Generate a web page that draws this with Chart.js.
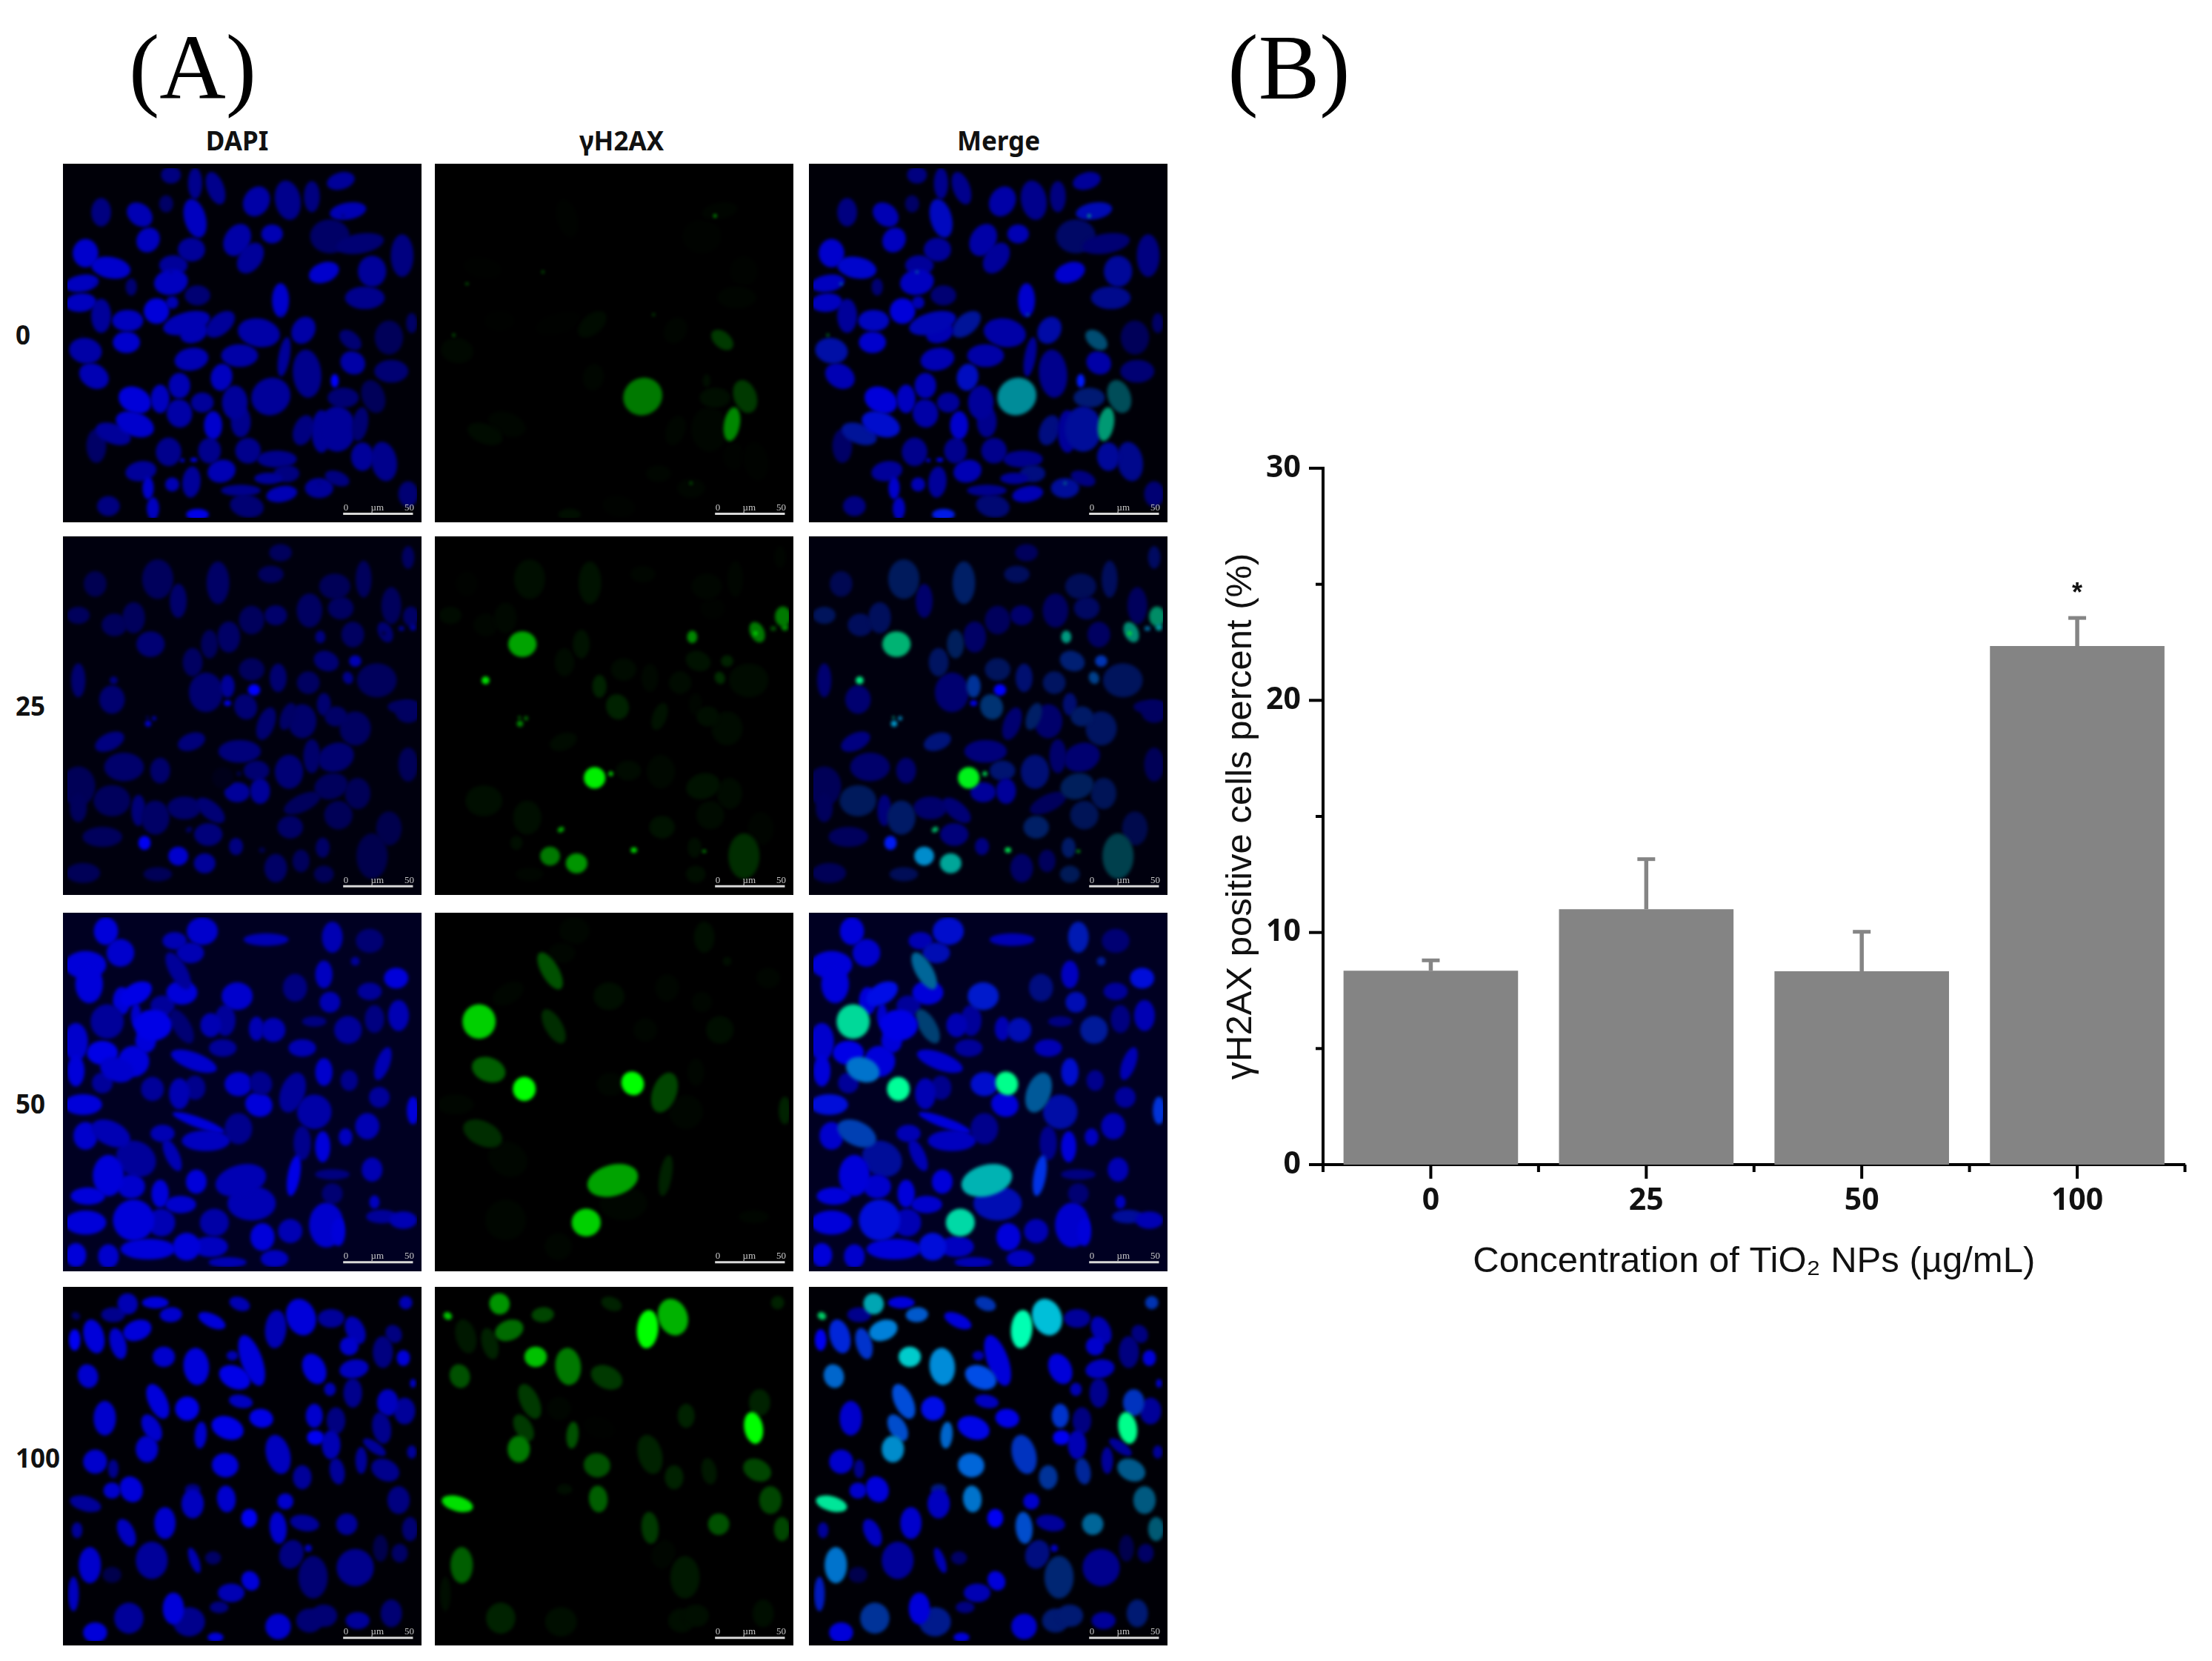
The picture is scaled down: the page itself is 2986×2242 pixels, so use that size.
<!DOCTYPE html>
<html>
<head>
<meta charset="utf-8">
<title>TiO2 NPs - gamma H2AX</title>
<script src="https://cdn.jsdelivr.net/npm/chart.js@4"></script>
<style>
  html, body { margin: 0; padding: 0; background: #fff; }
  #page { position: relative; width: 2986px; height: 2242px; overflow: hidden; }
  #page canvas { position: absolute; }
  .panel { background: #000; }
  .lbl { position: absolute; font-family: "Noto Sans", sans-serif; font-weight: 700; font-size: 35px; color: #111; line-height: 1; transform: translate(-50%, -50%); white-space: nowrap; }
  .row { transform: translate(0, -50%); }
  .big { font-family: "Liberation Serif", serif; font-weight: 400; font-size: 124px; color: #000; }
</style>
</head>
<body>
<div id="page">
  <canvas id="bars" width="1366" height="1220" style="left:1620px;top:560px"></canvas>
</div>
<script>
// Panel (B): bar values
var concentrations = ['0', '25', '50', '100'];
var positivePercent = [8.35, 11.0, 8.33, 22.34];
var errorTips = [8.8, 13.16, 10.03, 23.55];
var significance = ['', '', '', '*'];
var yTicks = [0, 5, 10, 15, 20, 25, 30];

// Panel (A)
var channels = ['DAPI', 'γH2AX', 'Merge'];
var rowLabels = ['0', '25', '50', '100'];
var scaleBarText = ['0', 'µm', '50'];

// Nuclei: x, y, x radius, y radius, tilt, blue, green
var nuclei0 = [
  [60,350,45,50,0,.8,0],[165,410,70,38,10,.8,.02],[45,475,60,30,-10,.75,0],[40,555,55,33,-5,.75,0],[125,180,35,50,0,.5,0],
  [285,190,50,38,40,.7,0],[320,295,40,45,30,.75,0],[395,145,25,30,0,.4,0],[515,205,38,70,-15,.75,.03],[415,25,35,30,0,.5,0],
  [515,60,25,55,0,.55,0],[600,80,30,60,-20,.55,0],[500,335,48,42,0,.6,0],[415,470,60,45,-10,.75,0],[425,400,50,35,0,.6,0],
  [420,555,22,22,0,.7,0],[525,525,45,35,0,.45,0],[355,590,45,45,0,.85,0],[125,610,35,60,0,.6,0],[235,630,55,38,0,.75,.02],
  [230,720,48,38,0,.8,0],[60,755,58,45,10,.65,.06],[95,860,55,42,30,.7,0],[250,490,20,30,0,.45,0],[480,640,85,38,-15,.7,.02],
  [510,680,50,35,-20,.7,0],[620,645,60,35,-40,.6,.08],[690,295,45,60,30,.65,0],[745,370,40,60,35,.6,0],[835,270,38,33,0,.7,0],
  [770,135,45,55,30,.65,0],[900,130,45,70,-10,.55,0],[1000,115,28,55,0,.5,0],[1120,50,50,30,-15,.6,0],[1150,175,65,30,-10,.7,.04],
  [1075,280,70,60,0,.4,.03],[1200,310,85,35,-10,.45,0],[1050,430,55,35,-20,.8,0],[1250,425,50,55,0,.6,.03],[1375,360,40,75,0,.5,0],
  [1220,535,70,40,0,.55,.04],[870,545,30,60,0,.8,0],[780,680,75,50,10,.65,0],[965,670,40,50,30,.65,.04],[700,775,65,40,0,.65,0],
  [500,790,60,40,-10,.7,0],[625,865,38,48,10,.75,.05],[885,780,20,70,10,.6,0],[980,850,50,85,-5,.55,0],[830,945,70,65,-30,.6,.55],
  [1095,880,14,24,0,1,.1],[1160,710,45,28,40,.45,.3],[1170,805,45,40,30,.65,0],[1255,945,40,60,-20,.35,.3],[1130,950,55,35,0,.45,.1],
  [1200,1060,28,60,10,.45,.6],[1105,1080,65,80,0,.6,.05],[965,1085,35,55,20,.5,.05],[1040,1090,35,75,0,.6,0],[265,960,60,45,25,.85,0],
  [370,955,33,50,0,.75,0],[450,900,38,45,0,.7,0],[265,1060,70,42,20,.8,.05],[450,1015,45,50,-10,.65,0],[545,970,40,35,0,.6,0],
  [590,1065,32,50,0,.8,0],[680,970,45,60,0,.6,0],[705,1050,35,55,0,.55,0],[175,1100,65,35,20,.6,.08],[105,1150,35,60,0,.4,0],
  [405,1175,45,50,0,.55,0],[575,1170,40,45,0,.55,0],[735,1170,45,45,0,.55,0],[855,1205,70,30,0,.55,0],[895,1265,45,30,0,.5,.05],
  [820,1285,50,20,0,.6,0],[625,1255,50,40,-15,.7,0],[500,1300,32,55,5,.6,0],[420,1310,25,25,0,.7,0],[290,1255,55,35,-10,.6,0],
  [320,1325,20,40,0,.8,0],[705,1335,70,20,0,.55,0],[875,1350,55,28,-10,.7,0],[730,1400,60,40,10,.45,.03],[340,1410,22,40,0,.75,0],
  [155,1400,40,35,0,.5,0],[525,1435,40,20,0,.9,.1],[1210,1195,40,50,0,.6,.03],[1300,1215,45,70,-10,.55,.03],[1105,1285,45,25,20,.5,0],
  [1030,1325,50,35,0,.6,.05],[1400,1350,35,45,0,.45,0],[1330,840,60,40,0,.45,0],[1415,640,20,35,0,.4,0],[1320,700,50,60,0,.35,0],
  [510,1208,14,8,0,1,0],[462,1210,9,7,0,1,0],[1130,195,6,6,0,.4,.9],[45,690,5,5,0,.2,.7],[415,428,5,5,0,.5,.6],
  [100,477,6,4,0,.5,.7],[875,605,5,5,0,.5,.5],[1030,1305,6,6,0,.5,.5]
];
var nuclei25 = [
  [360,150,55,70,0,.36,.1],[610,165,40,75,0,.4,.12],[445,240,30,60,0,.42,0],[100,170,40,45,0,.32,.03],[260,310,40,55,0,.36,.06],
  [180,340,45,40,0,.36,.05],[30,300,40,30,0,.36,.08],[575,420,30,50,0,.36,.12],[505,495,35,50,0,.38,.08],[655,390,40,55,0,.4,0],
  [750,320,45,50,0,.36,0],[850,300,40,35,0,.42,0],[990,280,45,60,0,.38,0],[1095,180,55,45,0,.34,.05],[1215,150,28,65,0,.36,.05],
  [1120,270,45,40,0,.38,.03],[1170,380,40,45,0,.38,0],[870,40,40,30,0,.36,0],[1330,260,35,65,0,.36,0],[830,130,45,30,0,.36,.05],
  [1400,60,22,40,0,.38,.04],[750,525,45,40,0,.36,.08],[860,560,30,50,0,.44,.06],[985,580,40,40,0,.38,.08],[1270,570,70,60,0,.36,.08],
  [560,620,60,70,0,.44,0],[170,650,45,50,0,.44,0],[30,570,25,60,0,.44,0],[900,720,25,50,20,.4,.12],[810,750,30,60,20,.44,0],
  [960,740,50,60,0,.42,0],[1050,670,25,40,0,.44,.05],[1100,720,40,35,0,.4,.1],[1180,770,55,60,0,.38,.08],[1400,700,45,40,0,.38,0],
  [160,825,55,30,-25,.5,0],[500,825,50,30,-20,.48,.08],[700,865,75,40,0,.48,0],[905,950,50,60,0,.46,.06],[1000,885,30,60,0,.42,0],
  [1100,890,65,50,-20,.44,0],[220,930,70,50,0,.42,0],[370,945,35,45,0,.42,0],[770,945,45,35,0,.44,.08],[30,1010,60,70,0,.34,0],
  [170,1070,65,55,0,.36,.1],[280,1110,25,55,0,.48,0],[350,1140,50,60,0,.4,.1],[470,1100,60,40,0,.42,0],[580,1110,60,30,40,.46,0],
  [690,1035,45,35,0,.6,0],[785,1030,35,45,0,.6,0],[960,1080,70,30,-25,.36,0],[1080,1010,60,45,-15,.36,.12],[1190,1040,45,55,0,.34,.08],
  [1110,1130,50,50,0,.34,.08],[910,1180,45,40,0,.4,.12],[570,1210,50,40,0,.48,0],[1320,1185,45,60,0,.3,.04],[1250,1300,55,80,0,.3,.25],
  [1045,1265,25,35,0,.4,.1],[955,1320,30,40,0,.36,0],[850,1350,40,50,0,.4,0],[685,1260,25,30,0,.5,0],[1050,1375,35,30,0,.34,.1],
  [50,1370,60,35,0,.34,0],[130,1220,70,35,0,.36,0],[30,1100,30,50,0,.36,0],[360,1375,50,25,0,.34,.05],[1400,920,35,60,0,.34,0],
  [1385,680,60,25,0,.38,0],
  [330,420,50,45,0,.45,.7],[177,570,16,16,0,.5,.9],[630,975,38,38,0,.1,.95],[697,958,10,10,0,.3,.8],[320,750,13,13,0,.8,.6],
  [345,728,9,9,0,.7,.5],[318,725,6,6,0,.5,.6],[1035,390,18,22,0,.5,.6],[1305,370,25,38,-25,.45,.55],[1298,375,8,8,0,.2,.9],
  [1412,305,28,35,0,.4,.55],[1420,350,14,14,0,.6,.6],[1372,355,12,10,0,.6,.4],[490,1190,14,10,-30,.4,.7],[793,1275,13,11,0,.3,.85],
  [1085,1280,8,6,0,.1,.7],[445,1300,35,33,0,.8,.55],[555,1330,38,35,0,.6,.65],[305,1245,22,25,0,.95,.1],[760,610,22,20,0,1,0],
  [650,665,15,12,0,.9,0],[650,595,25,40,0,.6,.2],[725,680,40,45,-20,.45,.2],[1180,490,22,20,0,.7,.2],[1150,560,18,22,-20,.55,.25],
  [1060,490,45,35,20,.45,.12]
];
var nuclei50 = [
  [145,40,35,40,0,.85,0],[205,130,40,40,0,.8,0],[60,180,60,40,0,.85,0],[75,260,40,55,0,.85,0],[270,300,50,30,-30,.9,.05],
  [545,40,45,40,0,.8,.05],[430,80,35,25,0,.7,0],[495,130,40,30,0,.7,.05],[460,295,45,35,0,.85,0],[690,310,45,40,0,.8,.1],
  [810,75,65,18,0,.7,0],[1085,65,30,45,0,.7,.1],[1180,165,18,18,0,.6,.1],[1050,220,25,40,0,.75,0],[930,275,35,40,0,.5,.05],
  [1075,335,30,30,0,.7,.05],[1350,235,35,30,0,.85,.05],[1240,80,40,35,0,.45,0],[1240,290,35,25,0,.6,0],[1360,390,30,45,0,.7,0],
  [1260,405,28,40,0,.5,0],[1150,450,40,40,0,.6,.1],[1010,415,35,15,0,.5,0],[840,450,35,35,0,.7,.05],[770,445,22,35,0,.7,0],
  [640,410,30,45,0,.6,0],[580,430,30,35,0,.7,0],[340,430,55,45,0,.9,0],[310,495,30,35,0,.85,0],[270,390,15,35,0,.8,0],
  [380,350,35,30,0,.6,0],[210,330,25,40,0,.85,0],[20,500,35,55,0,.8,0],[130,545,45,35,0,.9,0],[260,580,45,45,0,.85,0],
  [510,580,70,25,20,.8,0],[630,525,40,25,0,.6,0],[960,525,40,25,0,.7,0],[695,675,40,35,0,.8,.05],[450,715,30,45,0,.7,0],
  [515,690,30,35,0,.55,0],[130,670,30,30,0,.6,0],[50,760,55,30,0,.85,.05],[20,620,25,45,0,.85,0],[780,760,40,35,20,.85,0],
  [1050,625,25,40,0,.8,.05],[1155,660,25,30,0,.55,0],[1295,590,20,50,20,.7,0],[1280,730,30,30,0,.6,0],[1420,785,18,40,0,.85,.2],
  [1230,850,35,38,0,.7,0],[1010,790,50,50,0,.65,.05],[530,835,80,15,20,.85,0],[695,860,40,45,0,.55,0],[380,880,35,25,0,.7,0],
  [420,970,20,50,-25,.7,0],[165,880,60,35,25,.7,.25],[60,890,35,40,0,.8,0],[560,910,70,30,0,.75,0],[1045,935,22,45,0,.85,0],
  [1140,895,20,25,0,.75,0],[960,920,25,50,0,.55,0],[270,985,60,50,30,.6,.05],[155,1055,45,60,0,.85,0],[250,1100,40,35,0,.8,0],
  [925,1055,18,60,10,.9,.2],[520,1080,30,35,0,.85,0],[1250,1030,30,35,0,.7,0],[1085,1050,50,15,0,.5,0],[1085,1130,30,30,0,.45,0],
  [70,1140,50,25,0,.85,0],[370,1130,25,40,0,.85,0],[455,1175,45,25,0,.8,0],[60,1250,60,35,0,.85,0],[260,1240,60,60,0,.85,.05],
  [375,1250,40,40,0,.7,0],[750,1170,70,50,0,.7,.05],[795,1310,35,40,0,.85,0],[1060,1260,50,65,0,.8,0],[1110,1290,20,40,0,.85,0],
  [910,1285,35,35,0,.7,0],[1260,1165,15,20,0,.75,0],[1290,1225,45,20,0,.6,.05],[320,1360,80,30,0,.85,0],[480,1350,40,40,0,.85,.05],
  [580,1350,50,30,0,.75,0],[20,1385,30,35,0,.85,0],[155,1390,30,35,0,.8,0],[845,1400,40,25,0,.75,0],[650,1415,55,15,0,.7,0],
  [1380,1240,40,25,0,.7,0],
  [150,415,48,50,0,.6,.85],[338,695,33,35,0,.6,1],[788,672,32,35,-30,.55,1],[595,1250,42,40,0,.65,.85],[705,1075,75,45,-15,.7,.7],
  [190,615,50,35,20,.8,.45],[445,205,25,60,-30,.6,.4],[460,435,25,55,-30,.45,.25],[920,710,35,60,20,.6,.35]
];
var nuclei100 = [
  [850,130,40,72,5,.7,1],[955,80,55,70,-20,.85,.75],[520,285,48,70,-5,.85,.55],[385,245,42,38,0,.8,.8],[70,325,38,45,-15,.8,.4],
  [680,330,62,42,25,.9,.3],[235,25,38,40,-20,.7,.65],[20,75,18,15,30,.4,.8],[275,135,55,38,-20,.85,.5],[415,70,42,28,-5,.8,.35],
  [350,20,50,22,0,.85,0],[175,70,45,28,0,.55,0],[95,160,38,65,-15,.85,.15],[195,190,30,60,-15,.8,.2],[15,175,22,40,0,.95,0],
  [585,95,55,25,25,.85,0],[700,25,40,25,20,.7,.2],[670,240,22,18,0,.7,0],[750,260,40,100,-20,.85,0],[1080,85,50,35,0,.6,0],
  [1180,135,35,55,-25,.7,0],[1155,200,35,35,0,.8,0],[1295,225,38,60,0,.5,0],[1340,150,30,35,-30,.5,0],[1380,250,25,30,0,.85,0],
  [1390,20,25,25,0,.7,.2],[1010,295,42,60,-25,.85,0],[1075,380,22,25,0,.7,0],[1175,295,55,35,-10,.75,0],[1170,395,35,55,0,.55,0],
  [1420,355,12,18,0,.8,0],[360,430,35,70,-25,.85,.3],[482,460,45,45,0,.9,.05],[705,430,45,25,10,.75,0],[790,500,45,35,10,.9,0],
  [140,500,42,65,0,.8,0],[335,540,32,55,-30,.8,.3],[538,570,23,50,5,.8,.4],[650,540,62,42,20,.9,.02],[315,628,42,50,0,.8,.55],
  [100,680,45,45,0,.8,0],[175,710,20,35,0,.55,0],[640,695,50,45,10,.85,.4],[860,650,45,75,-15,.75,.2],[1010,490,32,45,0,.8,.2],
  [1100,510,35,50,0,.5,0],[1015,580,32,28,0,.95,0],[1080,610,35,55,0,.7,0],[1105,720,28,50,-10,.6,.15],[1315,435,40,50,0,.75,.2],
  [1385,470,40,50,0,.6,0],[1290,540,35,60,-10,.55,1],[1260,620,50,20,35,.6,0],[1205,675,22,50,0,.6,0],[1305,715,55,40,25,.55,.35],
  [1415,640,18,25,0,.6,0],[960,745,35,45,0,.6,.2],[1360,840,42,52,0,.5,.35],[1145,940,40,40,0,.6,.4],[1408,960,30,45,0,.45,.35],
  [170,800,32,30,0,.8,0],[250,795,42,50,-25,.85,0],[60,855,60,28,15,.6,.9],[505,855,42,55,0,.75,0],[505,795,30,20,0,.5,.1],
  [645,835,35,50,-5,.8,.45],[890,845,30,30,0,.8,0],[860,955,32,60,-5,.8,.3],[740,915,30,35,0,.95,0],[970,935,55,30,10,.6,0],
  [390,935,40,60,0,.8,0],[230,975,30,55,-25,.75,0],[25,965,20,30,0,.6,0],[335,1090,60,70,0,.6,0],[78,1110,42,68,0,.8,.45],
  [170,1150,35,30,0,.3,0],[512,1090,18,50,-20,.7,0],[590,1080,30,25,0,.4,0],[915,1065,45,55,20,.5,.05],[985,1040,15,15,0,.75,0],
  [1005,1160,55,80,0,.45,.15],[1180,1120,70,70,0,.55,0],[1285,1040,28,50,0,.3,0],[1365,1060,30,35,0,.4,0],[745,1175,32,38,-30,.85,0],
  [665,1225,50,35,0,.7,0],[615,1285,35,22,0,.5,0],[425,1290,40,60,0,.85,0],[490,1345,60,55,0,.55,.1],[240,1330,55,58,0,.6,.2],
  [10,1230,20,65,0,.75,.1],[100,1390,45,38,0,.85,0],[860,1365,48,48,30,.8,0],[990,1340,50,45,0,.45,.1],[1050,1320,50,42,0,.45,.1],
  [1190,1340,45,32,0,.6,0],[1330,1310,40,52,0,.45,.1],[600,1410,30,18,0,.85,0]
];

(function () {
    'use strict';

    var page = document.getElementById('page');
    var rows = [nuclei0, nuclei25, nuclei50, nuclei100];

    // layout of the micrograph grid, in page pixels
    var colLeft = [85, 587, 1092];
    var rowTop = [221, 724, 1232, 1737];
    var panelSize = 484;
    var colTitleX = [320, 839, 1348];
    var rowLabelY = [451, 952, 1489, 1967];
    // the nuclei were read in 3x crops that started a little inside each panel
    var cropLeft = -15;
    var cropTop = [-3, -9, -18, -27];
    var scaleBarY = [1432, 1425, 1415, 1412];
    // the real nuclei run together more than the flat ellipses do
    var rowGrow = [1.15, 1.15, 1.4, 1.08];
    var rowHaze = ['#000008', '#00000e', '#000022', '#000006'];

    function addLabel(text, x, y, cls) {
        var d = document.createElement('div');
        d.className = 'lbl ' + (cls || '');
        d.style.left = x + 'px';
        d.style.top = y + 'px';
        d.textContent = text;
        page.appendChild(d);
    }

    addLabel('(A)', 260, 92, 'big');
    addLabel('(B)', 1740, 92, 'big');
    channels.forEach(function (t, i) { addLabel(t, colTitleX[i], 189); });
    rowLabels.forEach(function (t, i) { addLabel(t, 21, rowLabelY[i], 'row'); });

    function nucleusSprite(n, channel, grow) {
        // tiny foci keep their size
        var k = n[2] < 20 && n[3] < 20 ? 1 : grow;
        var rx = n[2] / 3 * k, ry = n[3] / 3 * k;
        var size = Math.ceil(2 * Math.max(rx, ry)) + 12;
        var c = document.createElement('canvas');
        c.width = size;
        c.height = size;
        var x = c.getContext('2d');
        var blue = Math.round(n[5] * 255);
        var green = Math.round(n[6] * 255);
        if (channel === 0) { green = 0; }
        if (channel === 1) { blue = 0; green = Math.round(Math.pow(n[6], 1.25) * 255); }
        x.filter = 'blur(2px)';
        x.fillStyle = 'rgb(0,' + green + ',' + blue + ')';
        x.beginPath();
        x.ellipse(size / 2, size / 2, rx, ry, n[4] * Math.PI / 180, 0, Math.PI * 2);
        x.fill();
        return c;
    }

    var scaleBarLabels = {
        id: 'scaleBarLabels',
        afterDatasetsDraw: function (chart, args, opts) {
            var c = chart.ctx, xs = chart.scales.x, ys = chart.scales.y;
            var at = [1142, 1272, 1405];
            c.save();
            c.font = '13px "Liberation Serif"';
            c.fillStyle = '#c8c8c8';
            c.textAlign = 'center';
            c.textBaseline = 'middle';
            scaleBarText.forEach(function (t, i) {
                c.fillText(t, xs.getPixelForValue(at[i]), ys.getPixelForValue(opts.y - 24));
            });
            c.restore();
        }
    };

    function makePanel(row, col) {
        var list = rows[row].filter(function (n) {
            return col !== 1 || n[6] > 0;
        }).sort(function (a, b) {
            return (col === 1 ? a[6] - b[6] : a[5] + a[6] - b[5] - b[6]);
        });
        var sprites = list.map(function (n) { return nucleusSprite(n, col, rowGrow[row]); });
        var canvas = document.createElement('canvas');
        canvas.className = 'panel';
        canvas.width = panelSize;
        canvas.height = panelSize;
        canvas.style.left = colLeft[col] + 'px';
        canvas.style.top = rowTop[row] + 'px';
        if (col !== 1) { canvas.style.background = rowHaze[row]; }
        page.appendChild(canvas);
        new Chart(canvas, {
            type: 'scatter',
            data: {
                datasets: [{
                    data: list.map(function (n) { return { x: n[0], y: n[1] }; }),
                    pointStyle: function (ctx) { return sprites[ctx.dataIndex]; },
                    pointRadius: 6,
                    pointBorderWidth: 0,
                    order: 2
                }, {
                    type: 'line',
                    data: [{ x: 1130, y: scaleBarY[row] }, { x: 1420, y: scaleBarY[row] }],
                    borderColor: '#d8d8d8',
                    borderWidth: 3,
                    pointRadius: 0,
                    order: 1
                }]
            },
            options: {
                responsive: false,
                animation: false,
                events: [],
                devicePixelRatio: 1,
                layout: { padding: 0 },
                plugins: {
                    legend: { display: false },
                    tooltip: { enabled: false },
                    scaleBarLabels: { y: scaleBarY[row] }
                },
                scales: {
                    x: { type: 'linear', display: false, min: cropLeft, max: cropLeft + 1452 },
                    y: { type: 'linear', display: false, reverse: true, min: cropTop[row], max: cropTop[row] + 1452 }
                }
            },
            plugins: [scaleBarLabels]
        });
    }

    rows.forEach(function (r, i) {
        channels.forEach(function (c, j) { makePanel(i, j); });
    });

    // ticks are drawn here because Chart.js has one tick length per axis
    var axisTicks = {
        id: 'axisTicks',
        afterDraw: function (chart) {
            var c = chart.ctx, a = chart.chartArea, xs = chart.scales.x, ys = chart.scales.y;
            var i, px;
            c.save();
            c.strokeStyle = '#000';
            c.lineWidth = 4;
            yTicks.forEach(function (v) {
                var p = ys.getPixelForValue(v);
                c.beginPath();
                c.moveTo(a.left, p);
                c.lineTo(a.left - (v % 10 === 0 ? 19 : 10), p);
                c.stroke();
            });
            for (i = 0; i < concentrations.length; i++) {
                px = xs.getPixelForTick(i);
                c.beginPath();
                c.moveTo(px, a.bottom);
                c.lineTo(px, a.bottom + 19);
                c.stroke();
            }
            var step = xs.getPixelForTick(1) - xs.getPixelForTick(0);
            for (i = 0; i <= concentrations.length; i++) {
                px = a.left + i * step;
                c.beginPath();
                c.moveTo(px, a.bottom);
                c.lineTo(px, a.bottom + 10);
                c.stroke();
            }
            c.restore();
        }
    };

    var errorBars = {
        id: 'errorBars',
        afterDatasetsDraw: function (chart) {
            var c = chart.ctx, ys = chart.scales.y;
            var meta = chart.getDatasetMeta(0);
            c.save();
            c.strokeStyle = '#858585';
            errorTips.forEach(function (tip, i) {
                var x = meta.data[i].x;
                var top = ys.getPixelForValue(tip);
                c.lineWidth = 5.5;
                c.beginPath();
                c.moveTo(x, ys.getPixelForValue(positivePercent[i]));
                c.lineTo(x, top);
                c.stroke();
                c.lineWidth = 5;
                c.beginPath();
                c.moveTo(x - 12, top);
                c.lineTo(x + 12, top);
                c.stroke();
                if (significance[i]) {
                    c.fillStyle = '#111';
                    c.font = '700 36px "Liberation Sans"';
                    c.textAlign = 'center';
                    c.textBaseline = 'top';
                    c.fillText(significance[i], x, top - 50);
                }
            });
            c.restore();
        }
    };

    new Chart(document.getElementById('bars'), {
        type: 'bar',
        data: {
            labels: concentrations,
            datasets: [{
                data: positivePercent,
                backgroundColor: '#848484',
                barPercentage: 0.81,
                categoryPercentage: 1
            }]
        },
        options: {
            responsive: false,
            animation: false,
            events: [],
            devicePixelRatio: 1,
            layout: { padding: { top: 72, right: 36.5, bottom: 0, left: 0 } },
            plugins: { legend: { display: false }, tooltip: { enabled: false } },
            scales: {
                x: {
                    grid: { display: false },
                    border: { display: true, color: '#000', width: 4 },
                    ticks: { color: '#111', padding: 17, font: { family: 'Noto Sans', weight: '700', size: 41 } },
                    title: {
                        display: true,
                        text: 'Concentration of TiO₂ NPs (µg/mL)',
                        color: '#111',
                        font: { family: 'Liberation Sans', size: 49 },
                        padding: { top: 0, bottom: 47 }
                    },
                    afterFit: function (s) { s.height = 208; }
                },
                y: {
                    min: 0,
                    max: 30,
                    grid: { display: false },
                    border: { display: true, color: '#000', width: 4 },
                    ticks: {
                        stepSize: 5,
                        color: '#111',
                        padding: 22,
                        font: { family: 'Noto Sans', weight: '700', size: 41 },
                        callback: function (v) { return v % 10 === 0 ? String(v) : ''; }
                    },
                    title: {
                        display: true,
                        text: 'γH2AX positive cells percent (%)',
                        color: '#111',
                        font: { family: 'Liberation Sans', size: 49 },
                        padding: { top: 26, bottom: 0 }
                    },
                    afterFit: function (s) { s.width = 166; }
                }
            }
        },
        plugins: [errorBars, axisTicks]
    });
})();
</script>
</body>
</html>
